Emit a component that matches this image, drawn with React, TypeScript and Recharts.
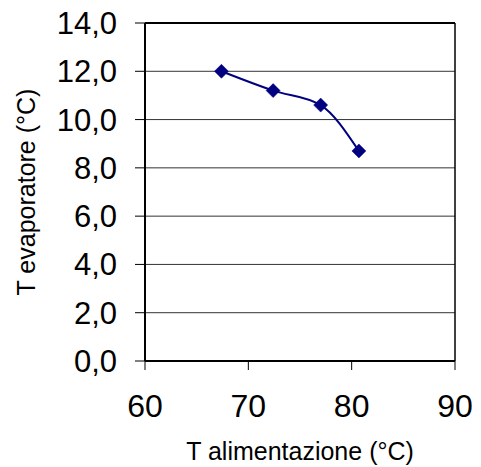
import React from "react";
import { LineChart, Line, XAxis, YAxis, CartesianGrid, ReferenceLine } from "recharts";

const tAlimentazione = [67.4, 72.4, 77.0, 80.7];
const tEvaporatore = [12.0, 11.2, 10.6, 8.7];
const xTicks = [60, 70, 80, 90];
const yTicks = [0, 2, 4, 6, 8, 10, 12, 14];

const data = tAlimentazione.map((x, i) => ({ x, y: tEvaporatore[i] }));

const FONT = "'Liberation Sans', Arial, sans-serif";
const NAVY = "#000080";

const Diamond = (props: any) => {
  const { cx, cy } = props;
  if (cx == null || cy == null) return null;
  const r = 7;
  return (
    <path
      d={`M${cx},${cy - r}L${cx + r},${cy}L${cx},${cy + r}L${cx - r},${cy}Z`}
      fill={NAVY}
      stroke={NAVY}
      strokeWidth={0.5}
    />
  );
};

export default function App() {
  return (
    <div style={{ width: 481, height: 467, marginLeft: -8, marginTop: -8, background: "#fff" }}>
      <LineChart
        width={481}
        height={467}
        data={data}
        margin={{ top: 23, right: 26, left: 0, bottom: 0 }}
      >
        <CartesianGrid horizontal vertical={false} stroke="#333" strokeWidth={1} />
        <XAxis
          type="number"
          dataKey="x"
          domain={[60, 90]}
          ticks={xTicks}
          interval={0}
          height={106}
          tickSize={9}
          tickMargin={24}
          stroke="#000"
          strokeWidth={2}
          tick={{ fill: "#000", fontSize: 32, fontFamily: FONT }}
          tickLine={{ stroke: "#000", strokeWidth: 1 }}
          label={{
            value: "T alimentazione (°C)",
            position: "insideBottom",
            offset: 7,
            fill: "#000",
            fontSize: 25,
            fontFamily: FONT,
          }}
        />
        <YAxis
          type="number"
          dataKey="y"
          domain={[0, 14]}
          ticks={yTicks}
          interval={0}
          width={145}
          tickSize={10}
          tickMargin={18}
          stroke="#000"
          strokeWidth={2}
          tickFormatter={(v: number) => v.toFixed(1).replace(".", ",")}
          tick={{ fill: "#000", fontSize: 31, fontFamily: FONT }}
          tickLine={{ stroke: "#000", strokeWidth: 1 }}
          label={{
            value: "T evaporatore (°C)",
            angle: -90,
            position: "insideLeft",
            offset: 26,
            fill: "#000",
            fontSize: 25,
            fontFamily: FONT,
            style: { textAnchor: "middle" },
          }}
        />
        <ReferenceLine y={14} stroke="#000" strokeWidth={2} />
        <ReferenceLine x={90} stroke="#000" strokeWidth={1.5} />
        <Line
          type="monotone"
          dataKey="y"
          stroke={NAVY}
          strokeWidth={2}
          dot={<Diamond />}
          activeDot={false}
          isAnimationActive={false}
        />
      </LineChart>
    </div>
  );
}
